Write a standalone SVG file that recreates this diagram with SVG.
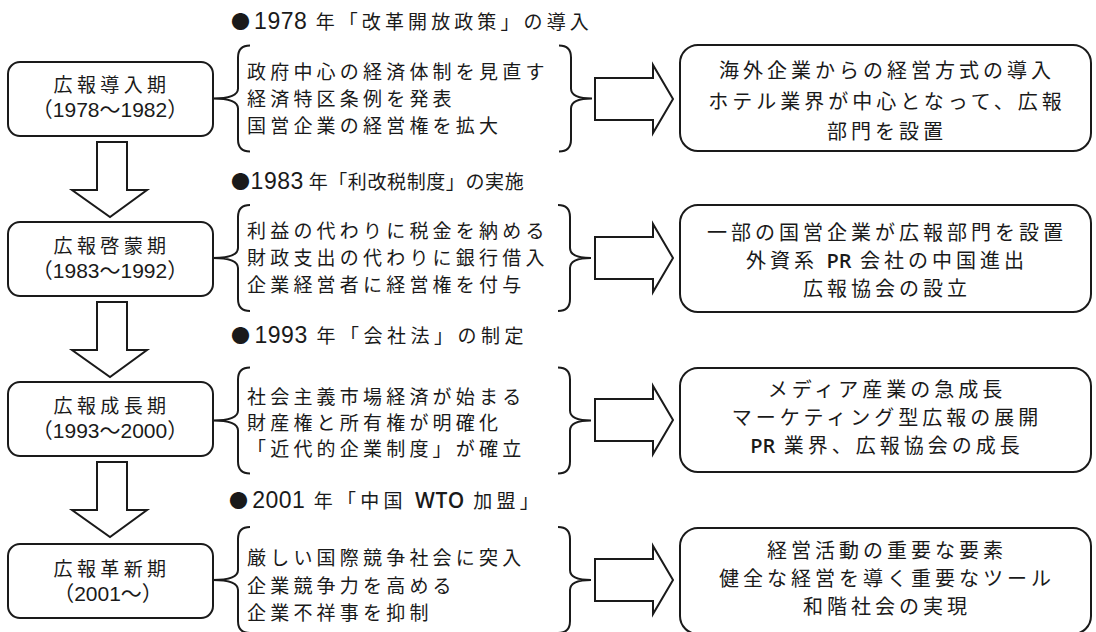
<svg xmlns="http://www.w3.org/2000/svg" width="1096" height="632" viewBox="0 0 1096 632">
<defs>
<style>
text{font-family:"Noto Sans CJK JP","Noto Sans",sans-serif;fill:#1a1a1a;}
.box{fill:#fff;stroke:#1a1a1a;stroke-width:2;}
.ln{fill:none;stroke:#1a1a1a;stroke-width:2;stroke-linejoin:miter;}
.lbl{font-size:19px;letter-spacing:4.4px;text-anchor:middle;}
.yr{font-family:"Liberation Sans","Noto Sans CJK JP",sans-serif;font-size:21px;text-anchor:middle;}
.br{font-size:19px;letter-spacing:4.2px;}
.rt{font-size:20px;letter-spacing:4px;text-anchor:middle;}
.tt{font-size:19px;}
.dg{font-family:"Liberation Sans",sans-serif;font-size:23px;letter-spacing:0.5px;}
.en{font-family:"Open Sans","Liberation Sans",sans-serif;font-weight:600;letter-spacing:0;}
.wto{font-family:"Open Sans","Liberation Sans",sans-serif;font-weight:600;font-size:21px;letter-spacing:0.5px;}
</style>
<path id="lb" class="ln" d="M37,-53 Q25,-53 25,-41 V-10 Q25,0 0,0 Q25,0 25,10 V41 Q25,53 37,53"/>
<path id="rb" class="ln" d="M0,-53 Q12,-53 12,-41 V-10 Q12,0 33,0 Q12,0 12,10 V41 Q12,53 0,53"/>
<path id="ra" class="box" d="M0,-21 H58 V-34 L78,0 L58,34 V21 H0 Z"/>
<path id="da" class="box" d="M97,142 H127 V190 H147 L110,217 L72,190 H97 Z"/>
</defs>
<rect width="1096" height="632" fill="#fff"/>

<g id="connectors">
<use href="#da"/>
<use href="#da" transform="translate(0,160)"/>
<use href="#da" transform="translate(0,320)"/>
<use href="#ra" transform="translate(595,99)"/>
<use href="#ra" transform="translate(595,258)"/>
<use href="#ra" transform="translate(595,420)"/>
<use href="#ra" transform="translate(595,580)"/>
</g>

<g id="braces">
<use href="#lb" transform="translate(213,98.5)"/>
<use href="#rb" transform="translate(559,98.5)"/>
<use href="#lb" transform="translate(213,258)"/>
<use href="#rb" transform="translate(558,258)"/>
<use href="#lb" transform="translate(213,420.5)"/>
<use href="#rb" transform="translate(558,420.5)"/>
<use href="#lb" transform="translate(213,580)"/>
<use href="#rb" transform="translate(558,580)"/>
</g>

<g id="titles">
<text class="tt" x="231" y="29" letter-spacing="4.1">●<tspan class="dg">1978</tspan> 年「改革開放政策」の導入</text>
<text class="tt" x="231" y="189" letter-spacing="0.6">●<tspan class="dg">1983</tspan> 年「利改税制度」の実施</text>
<text class="tt" x="231" y="343" letter-spacing="4.5">●<tspan class="dg">1993</tspan> 年「会社法」の制定</text>
<text class="tt" x="229" y="508" letter-spacing="4.2">●<tspan class="dg">2001</tspan> 年「中国 <tspan class="wto">WTO</tspan> 加盟」</text>
</g>

<g id="period1">
<rect class="box" x="8" y="62" width="205" height="74" rx="12"/>
<text class="lbl" x="112" y="92">広報導入期</text>
<text class="yr" x="110" y="117">（1978〜1982）</text>
</g>
<g id="period2">
<rect class="box" x="8" y="222" width="205" height="74" rx="12"/>
<text class="lbl" x="112" y="253">広報啓蒙期</text>
<text class="yr" x="110" y="278">（1983〜1992）</text>
</g>
<g id="period3">
<rect class="box" x="8" y="382" width="205" height="74" rx="12"/>
<text class="lbl" x="112" y="413">広報成長期</text>
<text class="yr" x="110" y="438">（1993〜2000）</text>
</g>
<g id="period4">
<rect class="box" x="8" y="544" width="205" height="74" rx="12"/>
<text class="lbl" x="112" y="576">広報革新期</text>
<text class="yr" x="108" y="601">（2001〜）</text>
</g>

<g id="causes1">
<text class="br" x="247" y="79">政府中心の経済体制を見直す</text>
<text class="br" x="247" y="106">経済特区条例を発表</text>
<text class="br" x="247" y="133">国営企業の経営権を拡大</text>
</g>
<g id="causes2">
<text class="br" x="247" y="238">利益の代わりに税金を納める</text>
<text class="br" x="247" y="265">財政支出の代わりに銀行借入</text>
<text class="br" x="247" y="292">企業経営者に経営権を付与</text>
</g>
<g id="causes3">
<text class="br" x="247" y="404">社会主義市場経済が始まる</text>
<text class="br" x="247" y="430">財産権と所有権が明確化</text>
<text class="br" x="247" y="456">「近代的企業制度」が確立</text>
</g>
<g id="causes4">
<text class="br" x="247" y="565">厳しい国際競争社会に突入</text>
<text class="br" x="247" y="593">企業競争力を高める</text>
<text class="br" x="247" y="620">企業不祥事を抑制</text>
</g>

<g id="result1">
<rect class="box" x="680" y="45" width="411" height="106" rx="18"/>
<text class="rt" x="887" y="78">海外企業からの経営方式の導入</text>
<text class="rt" x="887" y="109">ホテル業界が中心となって、広報</text>
<text class="rt" x="887" y="139">部門を設置</text>
</g>
<g id="result2">
<rect class="box" x="680" y="205" width="411" height="107" rx="18"/>
<text class="rt" x="887" y="240">一部の国営企業が広報部門を設置</text>
<text class="rt" x="887" y="268">外資系 <tspan class="en">PR</tspan> 会社の中国進出</text>
<text class="rt" x="887" y="296">広報協会の設立</text>
</g>
<g id="result3">
<rect class="box" x="680" y="368" width="411" height="104" rx="18"/>
<text class="rt" x="887" y="397">メディア産業の急成長</text>
<text class="rt" x="887" y="425">マーケティング型広報の展開</text>
<text class="rt" x="887" y="453"><tspan class="en">PR</tspan> 業界、広報協会の成長</text>
</g>
<g id="result4">
<rect class="box" x="680" y="528" width="411" height="106" rx="18"/>
<text class="rt" x="887" y="558">経営活動の重要な要素</text>
<text class="rt" x="887" y="586">健全な経営を導く重要なツール</text>
<text class="rt" x="887" y="614">和階社会の実現</text>
</g>
</svg>
